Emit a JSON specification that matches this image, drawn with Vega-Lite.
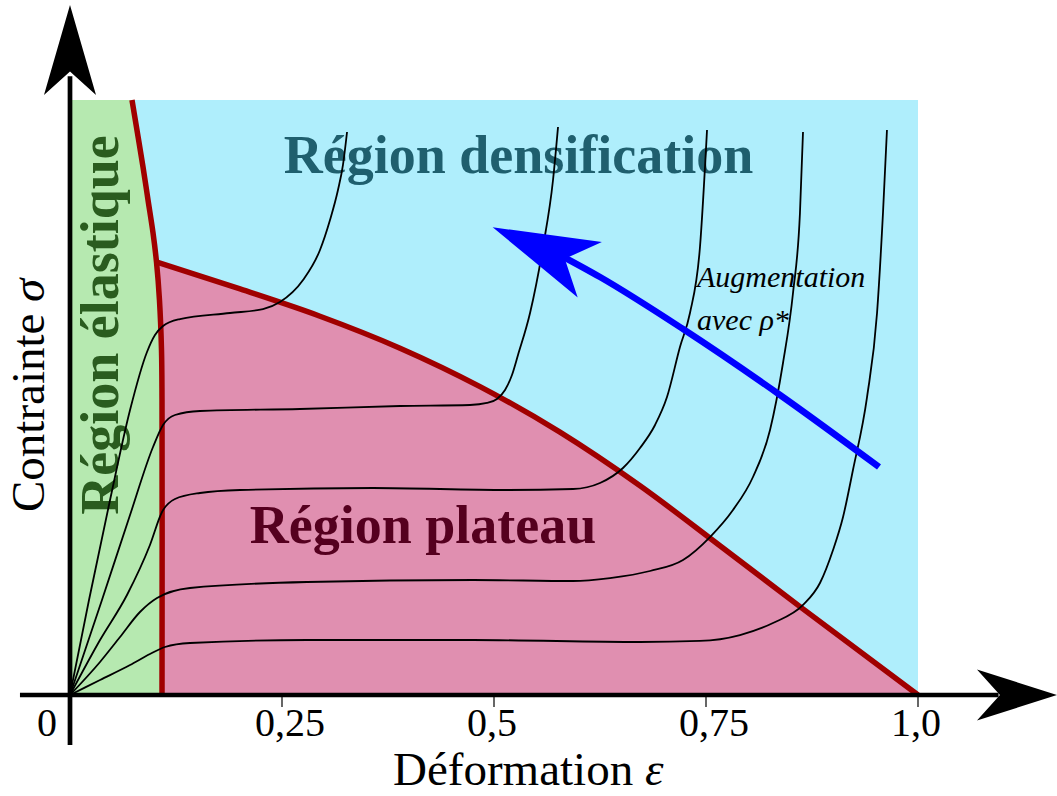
{
  "$schema": "https://vega.github.io/schema/vega-lite/v6.json",
  "width": 848,
  "height": 595,
  "autosize": {"type": "none"},
  "padding": {"left": 70, "top": 100, "right": 139, "bottom": 101},
  "background": "#ffffff",
  "config": {"view": {"fill": "#AFEEFC", "stroke": null}, "font": "Liberation Serif"},
  "datasets": {
    "plateau": [
      {"e": 0.1020, "s": 0.7277}, {"e": 0.2005, "s": 0.6824}, {"e": 0.2948, "s": 0.6366},
      {"e": 0.3892, "s": 0.5829}, {"e": 0.4835, "s": 0.5183}, {"e": 0.5778, "s": 0.4417},
      {"e": 0.6722, "s": 0.3516}, {"e": 0.7665, "s": 0.2508}, {"e": 0.8608, "s": 0.1486},
      {"e": 1.0, "s": 0.0}
    ],
    "elastic": [
      {"e": 0.1085, "s": 0.0}, {"e": 0.1085, "s": 0.4958}, {"e": 0.1079, "s": 0.5798},
      {"e": 0.1055, "s": 0.6639}, {"e": 0.1020, "s": 0.7277}, {"e": 0.0979, "s": 0.7765},
      {"e": 0.0920, "s": 0.8319}, {"e": 0.0861, "s": 0.8874}, {"e": 0.0731, "s": 1.0}
    ],
    "curves": [
      {"c": 1, "e": 0, "s": 0}, {"c": 1, "e": 0.0224, "s": 0.1597}, {"c": 1, "e": 0.0472, "s": 0.3277},
      {"c": 1, "e": 0.0708, "s": 0.4790}, {"c": 1, "e": 0.0908, "s": 0.5765}, {"c": 1, "e": 0.1002, "s": 0.6050},
      {"c": 1, "e": 0.1097, "s": 0.6202}, {"c": 1, "e": 0.1297, "s": 0.6319}, {"c": 1, "e": 0.1887, "s": 0.6420},
      {"c": 1, "e": 0.2276, "s": 0.6487}, {"c": 1, "e": 0.2476, "s": 0.6605}, {"c": 1, "e": 0.2748, "s": 0.6975},
      {"c": 1, "e": 0.2948, "s": 0.7479}, {"c": 1, "e": 0.3066, "s": 0.7983}, {"c": 1, "e": 0.3160, "s": 0.8487},
      {"c": 1, "e": 0.3219, "s": 0.8908}, {"c": 1, "e": 0.3267, "s": 0.9462},

      {"c": 2, "e": 0, "s": 0}, {"c": 2, "e": 0.0377, "s": 0.1597}, {"c": 2, "e": 0.0708, "s": 0.3025},
      {"c": 2, "e": 0.0979, "s": 0.4168}, {"c": 2, "e": 0.1097, "s": 0.4538}, {"c": 2, "e": 0.1238, "s": 0.4706},
      {"c": 2, "e": 0.1533, "s": 0.4773}, {"c": 2, "e": 0.2712, "s": 0.4807}, {"c": 2, "e": 0.3892, "s": 0.4857},
      {"c": 2, "e": 0.4717, "s": 0.4874}, {"c": 2, "e": 0.4917, "s": 0.4908}, {"c": 2, "e": 0.5035, "s": 0.4975},
      {"c": 2, "e": 0.5130, "s": 0.5126}, {"c": 2, "e": 0.5212, "s": 0.5378}, {"c": 2, "e": 0.5283, "s": 0.5714},
      {"c": 2, "e": 0.5425, "s": 0.6420}, {"c": 2, "e": 0.5578, "s": 0.7529}, {"c": 2, "e": 0.5696, "s": 0.8655},
      {"c": 2, "e": 0.5755, "s": 0.9546},

      {"c": 3, "e": 0, "s": 0}, {"c": 3, "e": 0.0354, "s": 0.0924}, {"c": 3, "e": 0.0672, "s": 0.1681},
      {"c": 3, "e": 0.0943, "s": 0.2521}, {"c": 3, "e": 0.1085, "s": 0.3076}, {"c": 3, "e": 0.1238, "s": 0.3294},
      {"c": 3, "e": 0.1533, "s": 0.3395}, {"c": 3, "e": 0.2005, "s": 0.3445}, {"c": 3, "e": 0.3573, "s": 0.3479},
      {"c": 3, "e": 0.5153, "s": 0.3445}, {"c": 3, "e": 0.5932, "s": 0.3462}, {"c": 3, "e": 0.6250, "s": 0.3563},
      {"c": 3, "e": 0.6521, "s": 0.3815}, {"c": 3, "e": 0.6722, "s": 0.4151}, {"c": 3, "e": 0.6899, "s": 0.4538},
      {"c": 3, "e": 0.7040, "s": 0.5008}, {"c": 3, "e": 0.7193, "s": 0.5849}, {"c": 3, "e": 0.7311, "s": 0.6420},
      {"c": 3, "e": 0.7429, "s": 0.7529}, {"c": 3, "e": 0.7512, "s": 0.9496},

      {"c": 4, "e": 0, "s": 0}, {"c": 4, "e": 0.0354, "s": 0.0555}, {"c": 4, "e": 0.0590, "s": 0.0975},
      {"c": 4, "e": 0.0825, "s": 0.1395}, {"c": 4, "e": 0.1026, "s": 0.1630}, {"c": 4, "e": 0.1415, "s": 0.1798},
      {"c": 4, "e": 0.2795, "s": 0.1899}, {"c": 4, "e": 0.4752, "s": 0.1933}, {"c": 4, "e": 0.5932, "s": 0.1916},
      {"c": 4, "e": 0.6368, "s": 0.1966}, {"c": 4, "e": 0.6840, "s": 0.2084}, {"c": 4, "e": 0.7229, "s": 0.2269},
      {"c": 4, "e": 0.7547, "s": 0.2655}, {"c": 4, "e": 0.7818, "s": 0.3109}, {"c": 4, "e": 0.8054, "s": 0.3664},
      {"c": 4, "e": 0.8255, "s": 0.4454}, {"c": 4, "e": 0.8408, "s": 0.5580}, {"c": 4, "e": 0.8526, "s": 0.6756},
      {"c": 4, "e": 0.8608, "s": 0.8101}, {"c": 4, "e": 0.8644, "s": 0.9462},

      {"c": 5, "e": 0, "s": 0}, {"c": 5, "e": 0.0354, "s": 0.0252}, {"c": 5, "e": 0.0708, "s": 0.0504},
      {"c": 5, "e": 0.0943, "s": 0.0689}, {"c": 5, "e": 0.1120, "s": 0.0807}, {"c": 5, "e": 0.1415, "s": 0.0874},
      {"c": 5, "e": 0.2795, "s": 0.0924}, {"c": 5, "e": 0.4752, "s": 0.0924}, {"c": 5, "e": 0.6722, "s": 0.0891},
      {"c": 5, "e": 0.7429, "s": 0.0908}, {"c": 5, "e": 0.7901, "s": 0.1008}, {"c": 5, "e": 0.8290, "s": 0.1210},
      {"c": 5, "e": 0.8644, "s": 0.1513}, {"c": 5, "e": 0.8844, "s": 0.1882}, {"c": 5, "e": 0.8998, "s": 0.2437},
      {"c": 5, "e": 0.9116, "s": 0.2992}, {"c": 5, "e": 0.9233, "s": 0.3782}, {"c": 5, "e": 0.9399, "s": 0.5008},
      {"c": 5, "e": 0.9517, "s": 0.6420}, {"c": 5, "e": 0.9587, "s": 0.8101}, {"c": 5, "e": 0.9634, "s": 0.9496}
    ],
    "shaft": [
      {"e": 0.5755, "s": 0.7412}, {"e": 0.6250, "s": 0.7025}, {"e": 0.7229, "s": 0.6151},
      {"e": 0.8373, "s": 0.5042}, {"e": 0.9540, "s": 0.3832}
    ],
    "ticks": [
      {"v": 0, "t": "0"}, {"v": 0.25, "t": "0,25"}, {"v": 0.5, "t": "0,5"}, {"v": 0.75, "t": "0,75"}, {"v": 1, "t": "1,0"}
    ],
    "one": [{}]
  },
  "layer": [
    {
      "data": {"name": "plateau"},
      "mark": {"type": "area", "interpolate": "monotone", "color": "#E08FB0", "opacity": 1},
      "encoding": {
        "x": {"field": "e", "type": "quantitative", "scale": {"domain": [0, 1], "nice": false, "zero": false}, "axis": null},
        "y": {"field": "s", "type": "quantitative", "scale": {"domain": [0, 1], "nice": false, "zero": false}, "axis": null},
        "y2": {"datum": 0}
      }
    },
    {
      "data": {"name": "elastic"},
      "mark": {"type": "area", "orient": "horizontal", "interpolate": "catmull-rom", "color": "#B6E9B0", "opacity": 1},
      "encoding": {
        "x": {"field": "e", "type": "quantitative", "scale": {"domain": [0, 1], "nice": false, "zero": false}, "axis": null},
        "x2": {"datum": 0},
        "y": {"field": "s", "type": "quantitative", "scale": {"domain": [0, 1], "nice": false, "zero": false}, "axis": null}
      }
    },
    {
      "data": {"name": "one"},
      "mark": {"type": "text", "text": "Région densification", "font": "Liberation Serif", "fontSize": 54, "fontWeight": "bold", "color": "#1F5F6E", "align": "center", "baseline": "alphabetic"},
      "encoding": {
        "x": {"datum": 0.5289, "type": "quantitative", "scale": {"domain": [0, 1], "nice": false, "zero": false}, "axis": null},
        "y": {"datum": 0.8773, "type": "quantitative", "scale": {"domain": [0, 1], "nice": false, "zero": false}, "axis": null}
      }
    },
    {
      "data": {"name": "one"},
      "mark": {"type": "text", "text": "Région plateau", "font": "Liberation Serif", "fontSize": 54, "fontWeight": "bold", "color": "#55001F", "align": "center", "baseline": "alphabetic"},
      "encoding": {
        "x": {"datum": 0.4163, "type": "quantitative", "scale": {"domain": [0, 1], "nice": false, "zero": false}, "axis": null},
        "y": {"datum": 0.2555, "type": "quantitative", "scale": {"domain": [0, 1], "nice": false, "zero": false}, "axis": null}
      }
    },
    {
      "data": {"name": "one"},
      "mark": {"type": "text", "text": "Région élastique", "font": "Liberation Serif", "fontSize": 54, "fontWeight": "bold", "color": "#2A5C1F", "align": "center", "baseline": "alphabetic", "angle": 270},
      "encoding": {
        "x": {"datum": 0.0566, "type": "quantitative", "scale": {"domain": [0, 1], "nice": false, "zero": false}, "axis": null},
        "y": {"datum": 0.6218, "type": "quantitative", "scale": {"domain": [0, 1], "nice": false, "zero": false}, "axis": null}
      }
    },
    {
      "data": {"name": "plateau"},
      "mark": {"type": "line", "interpolate": "monotone", "color": "#A00000", "strokeWidth": 5.5},
      "encoding": {
        "x": {"field": "e", "type": "quantitative", "scale": {"domain": [0, 1], "nice": false, "zero": false}, "axis": null},
        "y": {"field": "s", "type": "quantitative", "scale": {"domain": [0, 1], "nice": false, "zero": false}, "axis": null}
      }
    },
    {
      "data": {"name": "elastic"},
      "mark": {"type": "line", "interpolate": "catmull-rom", "color": "#A00000", "strokeWidth": 5.5},
      "encoding": {
        "x": {"field": "e", "type": "quantitative", "scale": {"domain": [0, 1], "nice": false, "zero": false}, "axis": null},
        "y": {"field": "s", "type": "quantitative", "scale": {"domain": [0, 1], "nice": false, "zero": false}, "axis": null},
        "order": {"field": "s", "type": "quantitative"}
      }
    },
    {
      "data": {"name": "curves"},
      "mark": {"type": "line", "interpolate": "monotone", "color": "#000000", "strokeWidth": 1.8},
      "encoding": {
        "x": {"field": "e", "type": "quantitative", "scale": {"domain": [0, 1], "nice": false, "zero": false}, "axis": null},
        "y": {"field": "s", "type": "quantitative", "scale": {"domain": [0, 1], "nice": false, "zero": false}, "axis": null},
        "detail": {"field": "c", "type": "nominal"}
      }
    },
    {
      "data": {"name": "shaft"},
      "mark": {"type": "line", "interpolate": "monotone", "color": "#0000FF", "strokeWidth": 6.5, "strokeCap": "butt"},
      "encoding": {
        "x": {"field": "e", "type": "quantitative", "scale": {"domain": [0, 1], "nice": false, "zero": false}, "axis": null},
        "y": {"field": "s", "type": "quantitative", "scale": {"domain": [0, 1], "nice": false, "zero": false}, "axis": null}
      }
    },
    {
      "data": {"name": "one"},
      "mark": {"type": "point", "shape": "M0,-1L0.57,1L0,0.485L-0.57,1Z", "size": 11236, "angle": 293.6, "filled": true, "color": "#0000FF", "opacity": 1, "strokeWidth": 0},
      "encoding": {
        "x": {"datum": 0.5557, "type": "quantitative", "scale": {"domain": [0, 1], "nice": false, "zero": false}, "axis": null},
        "y": {"datum": 0.7504, "type": "quantitative", "scale": {"domain": [0, 1], "nice": false, "zero": false}, "axis": null}
      }
    },
    {
      "data": {"name": "one"},
      "mark": {"type": "text", "text": ["Augmentation", "avec ρ*"], "lineHeight": 43, "font": "Liberation Serif", "fontSize": 30, "fontStyle": "italic", "color": "#000000", "align": "left", "baseline": "alphabetic"},
      "encoding": {
        "x": {"datum": 0.7394, "type": "quantitative", "scale": {"domain": [0, 1], "nice": false, "zero": false}, "axis": null},
        "y": {"datum": 0.6857, "type": "quantitative", "scale": {"domain": [0, 1], "nice": false, "zero": false}, "axis": null}
      }
    },
    {
      "data": {"name": "one"},
      "mark": {"type": "rule", "color": "#000000", "strokeWidth": 4.7, "strokeCap": "butt"},
      "encoding": {
        "x": {"datum": -0.059, "type": "quantitative", "scale": {"domain": [0, 1], "nice": false, "zero": false}, "axis": null},
        "x2": {"datum": 1.095},
        "y": {"datum": 0, "type": "quantitative", "scale": {"domain": [0, 1], "nice": false, "zero": false}, "axis": null}
      }
    },
    {
      "data": {"name": "one"},
      "mark": {"type": "rule", "color": "#000000", "strokeWidth": 4.7, "strokeCap": "butt"},
      "encoding": {
        "x": {"datum": 0, "type": "quantitative", "scale": {"domain": [0, 1], "nice": false, "zero": false}, "axis": null},
        "y": {"datum": -0.084, "type": "quantitative", "scale": {"domain": [0, 1], "nice": false, "zero": false}, "axis": null},
        "y2": {"datum": 1.04}
      }
    },
    {
      "data": {"name": "one"},
      "mark": {"type": "point", "shape": "M0,-1L0.578,1L0,0.48L-0.578,1Z", "size": 8100, "angle": 0, "filled": true, "color": "#000000", "opacity": 1, "strokeWidth": 0},
      "encoding": {
        "x": {"datum": 0, "type": "quantitative", "scale": {"domain": [0, 1], "nice": false, "zero": false}, "axis": null},
        "y": {"datum": 1.084, "type": "quantitative", "scale": {"domain": [0, 1], "nice": false, "zero": false}, "axis": null}
      }
    },
    {
      "data": {"name": "one"},
      "mark": {"type": "point", "shape": "M0,-1L0.64,1L0,0.425L-0.64,1Z", "size": 6400, "angle": 90, "filled": true, "color": "#000000", "opacity": 1, "strokeWidth": 0},
      "encoding": {
        "x": {"datum": 1.1167, "type": "quantitative", "scale": {"domain": [0, 1], "nice": false, "zero": false}, "axis": null},
        "y": {"datum": 0, "type": "quantitative", "scale": {"domain": [0, 1], "nice": false, "zero": false}, "axis": null}
      }
    },
    {
      "data": {"name": "ticks"},
      "transform": [{"filter": "datum.v > 0"}],
      "mark": {"type": "rule", "color": "#000000", "strokeWidth": 1.2},
      "encoding": {
        "x": {"field": "v", "type": "quantitative", "scale": {"domain": [0, 1], "nice": false, "zero": false}, "axis": null},
        "y": {"datum": 0, "type": "quantitative", "scale": {"domain": [0, 1], "nice": false, "zero": false}, "axis": null},
        "y2": {"datum": -0.0202}
      }
    },
    {
      "data": {"name": "ticks"},
      "transform": [{"filter": "datum.v > 0"}],
      "mark": {"type": "text", "font": "Liberation Serif", "fontSize": 40, "color": "#000000", "align": "left", "baseline": "alphabetic", "dx": -27},
      "encoding": {
        "x": {"field": "v", "type": "quantitative", "scale": {"domain": [0, 1], "nice": false, "zero": false}, "axis": null},
        "y": {"datum": -0.0689, "type": "quantitative", "scale": {"domain": [0, 1], "nice": false, "zero": false}, "axis": null},
        "text": {"field": "t", "type": "nominal"}
      }
    },
    {
      "data": {"name": "ticks"},
      "transform": [{"filter": "datum.v == 0"}],
      "mark": {"type": "text", "font": "Liberation Serif", "fontSize": 40, "color": "#000000", "align": "left", "baseline": "alphabetic", "dx": -33},
      "encoding": {
        "x": {"field": "v", "type": "quantitative", "scale": {"domain": [0, 1], "nice": false, "zero": false}, "axis": null},
        "y": {"datum": -0.0689, "type": "quantitative", "scale": {"domain": [0, 1], "nice": false, "zero": false}, "axis": null},
        "text": {"field": "t", "type": "nominal"}
      }
    },
    {
      "data": {"name": "one"},
      "mark": {"type": "text", "text": "Déformation", "font": "Liberation Serif", "fontSize": 47, "color": "#000000", "align": "left", "baseline": "alphabetic"},
      "encoding": {
        "x": {"datum": 0.3809, "type": "quantitative", "scale": {"domain": [0, 1], "nice": false, "zero": false}, "axis": null},
        "y": {"datum": -0.1513, "type": "quantitative", "scale": {"domain": [0, 1], "nice": false, "zero": false}, "axis": null}
      }
    },
    {
      "data": {"name": "one"},
      "mark": {"type": "text", "text": "ε", "font": "Liberation Serif", "fontSize": 47, "fontStyle": "italic", "color": "#000000", "align": "left", "baseline": "alphabetic"},
      "encoding": {
        "x": {"datum": 0.678, "type": "quantitative", "scale": {"domain": [0, 1], "nice": false, "zero": false}, "axis": null},
        "y": {"datum": -0.1513, "type": "quantitative", "scale": {"domain": [0, 1], "nice": false, "zero": false}, "axis": null}
      }
    },
    {
      "data": {"name": "one"},
      "mark": {"type": "text", "text": "Contrainte", "font": "Liberation Serif", "fontSize": 47, "color": "#000000", "align": "left", "baseline": "alphabetic", "angle": 270},
      "encoding": {
        "x": {"datum": -0.0307, "type": "quantitative", "scale": {"domain": [0, 1], "nice": false, "zero": false}, "axis": null},
        "y": {"datum": 0.3076, "type": "quantitative", "scale": {"domain": [0, 1], "nice": false, "zero": false}, "axis": null}
      }
    },
    {
      "data": {"name": "one"},
      "mark": {"type": "text", "text": "σ", "font": "Liberation Serif", "fontSize": 47, "fontStyle": "italic", "color": "#000000", "align": "left", "baseline": "alphabetic", "angle": 270},
      "encoding": {
        "x": {"datum": -0.0307, "type": "quantitative", "scale": {"domain": [0, 1], "nice": false, "zero": false}, "axis": null},
        "y": {"datum": 0.6605, "type": "quantitative", "scale": {"domain": [0, 1], "nice": false, "zero": false}, "axis": null}
      }
    }
  ]
}
